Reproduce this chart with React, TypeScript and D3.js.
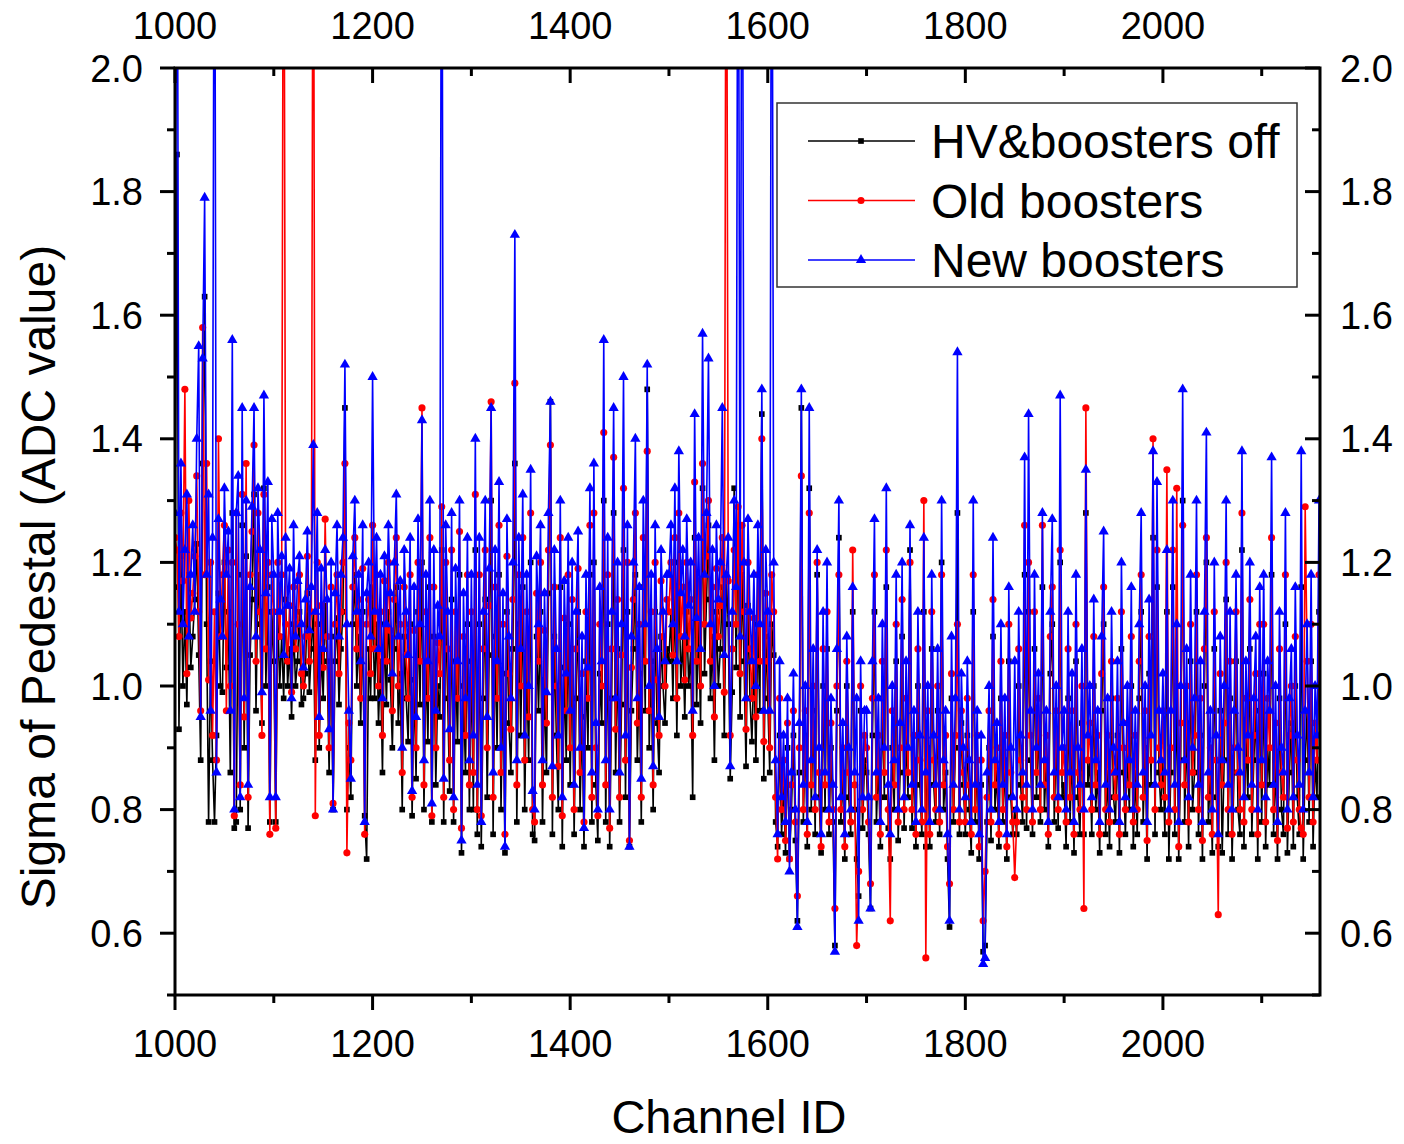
import React from 'react';
import * as d3 from 'd3';

// ---------- DATA (values in hundredths of ADC counts, one value every 2 channels) ----------
const CHANNEL_START = 1000;
const CHANNEL_STEP = 2;

const hvOff = [
  // 1000-1098
  116,186,93,121,100,112,97,118,103,108, 114,123,105,88,136,163,110,78,104,88, 78,92,115,100,99,120,103,112,86,128, 77,78,118,80,126,90,121,77,105,114, 131,96,118,110,94,132,100,116,78,112,
  // 1100-1198
  104,78,112,100,108,98,114,100,106,95, 110,100,104,112,97,98,102,115,99,106, 112,88,110,90,106,98,113,104,86,108, 80,104,111,97,106,112,145,80,90,82, 110,118,100,108,94,112,79,72,106,98,
  // 1200-1298
  116,98,110,94,104,86,110,97,112,101, 90,106,116,94,102,80,108,98,91,110, 79,101,85,112,97,120,80,104,91,116, 78,108,84,100,95,122,78,112,98,83, 114,78,104,91,118,73,100,86,110,80,
  // 1300-1398
  104,80,122,76,110,74,98,114,82,105, 130,76,108,90,118,80,102,73,112,94, 86,106,136,78,110,92,116,80,104,88, 120,76,75,108,96,112,78,101,86,115, 146,76,108,92,80,116,74,103,88,110,
  // 1400-1498
  84,106,76,98,112,80,95,74,104,90, 118,78,120,84,75,102,94,130,78,110, 74,98,128,86,106,78,97,122,82,112, 74,96,106,118,88,102,78,116,96,148, 90,104,80,112,94,86,108,100,94,106,
  // 1500-1598
  104,112,98,116,92,120,100,108,95,112, 100,106,82,124,97,110,94,132,102,114, 126,98,108,88,112,100,106,116,92,118, 110,85,99,132,103,126,95,118,104,87, 113,98,91,104,88,110,96,144,85,108,
  // 1600-1698
  98,86,110,105,78,74,92,76,84,73, 90,72,80,92,75,62,86,145,78,92, 74,132,80,96,76,118,82,73,100,80, 106,76,90,78,58,96,124,78,86,72, 100,82,76,112,80,72,66,96,77,88,
  // 1700-1798
  86,76,64,92,112,78,88,74,98,82, 116,77,72,90,80,104,75,86,108,77, 92,82,122,77,88,74,100,84,76,112, 74,90,74,106,84,78,96,76,120,80, 86,72,61,98,78,90,128,76,94,84,
  // 1800-1898
  76,92,80,73,112,78,88,72,84,57, 58,78,90,75,108,80,86,74,98,78, 88,72,104,82,76,80,76,100,84,78, 118,77,112,88,76,106,82,94,78,116, 80,88,74,102,110,78,92,77,120,82,
  // 1900-1998
  84,74,98,78,90,73,104,82,76,94, 76,128,84,88,76,100,80,86,73,96, 110,76,86,74,98,82,78,92,73,106, 86,76,90,80,100,74,86,76,98,112, 78,90,72,102,84,124,76,116,86,80,
  // 2000-2098
  88,76,112,72,86,116,76,100,72,88, 130,78,94,74,104,80,86,112,76,92, 72,100,120,78,86,73,106,82,74,96, 73,88,114,76,98,72,86,104,80,76, 122,74,92,82,106,76,88,96,72,102,
  // 2100-2158
  78,102,74,90,84,118,76,88,72,98, 80,76,110,73,86,94,74,100,82,76, 116,72,88,96,78,104,74,88,82,112,
];

const oldBoosters = [
  // 1000-1098
  124,122,108,128,117,148,102,130,111,115, 121,134,112,96,158,118,136,101,120,92, 112,88,140,108,118,126,96,122,100,120, 79,128,110,84,131,95,136,82,118,125, 139,104,128,112,92,131,106,120,76,118,
  // 1100-1198
  112,77,120,108,118,260,110,104,113,99, 116,106,110,118,102,100,108,121,104,112, 260,79,120,92,113,103,127,108,90,116, 81,110,118,102,112,120,136,73,94,88, 116,124,106,114,98,119,76,110,114,102,
  // 1200-1298
  126,106,118,100,112,92,117,104,120,109, 96,114,124,100,110,86,116,105,98,118, 82,109,90,120,104,145,84,112,98,124, 79,116,90,107,102,129,82,120,106,88, 122,80,112,98,125,77,108,92,118,84,
  // 1300-1398
  112,86,131,80,118,79,106,122,90,113, 146,82,116,98,126,86,110,76,121,102, 93,114,149,84,118,100,124,88,112,95, 128,80,78,115,104,120,84,109,94,122, 139,82,116,100,87,124,79,111,96,118,
  // 1400-1498
  90,114,80,106,119,86,102,78,112,98, 126,82,128,90,79,110,100,141,84,118, 77,106,137,93,114,82,105,132,88,120, 75,103,114,128,94,110,82,124,104,138, 96,112,84,120,101,92,117,108,100,114,
  // 1500-1598
  112,120,105,124,98,128,108,116,101,120, 106,114,92,133,104,117,100,136,110,121, 130,104,116,95,119,108,113,124,99,260, 117,92,106,122,110,129,102,126,112,93, 120,106,98,111,95,118,104,140,91,115,
  // 1600-1698
  104,90,118,112,82,72,98,80,88,75, 94,72,84,96,78,66,90,134,80,96, 76,128,84,100,80,120,86,74,106,84, 112,78,94,80,64,100,118,80,90,74, 104,86,78,122,84,58,70,100,80,92,
  // 1700-1798
  90,78,68,98,118,82,92,76,104,86, 122,80,62,96,84,110,78,90,114,80, 98,86,120,80,92,76,106,88,78,130, 56,96,76,112,88,80,100,78,118,84, 92,74,68,102,80,92,110,78,96,86,
  // 1800-1898
  78,98,84,76,118,80,92,74,88,62, 70,82,96,78,114,84,90,76,104,80, 92,74,110,86,78,69,78,106,88,82, 126,80,120,92,78,112,86,98,80,126, 84,92,76,108,116,82,96,80,122,86,
  // 1900-1998
  90,78,106,82,96,76,110,86,80,100, 64,145,88,94,80,108,84,92,76,102, 116,80,92,78,104,86,82,98,76,112, 90,80,94,84,108,78,92,80,104,118, 82,96,75,108,88,140,80,122,90,84,
  // 2000-2098
  96,82,135,78,90,122,80,132,74,94, 126,84,100,78,110,86,92,118,80,98, 75,106,124,82,90,76,112,88,63,102, 84,94,120,80,104,76,90,112,86,80, 128,78,98,88,114,80,92,102,76,110,
  // 2100-2158
  84,110,78,98,90,124,80,94,75,106, 86,82,118,77,92,100,78,108,88,80, 77,76,129,104,82,110,78,94,88,118,
];

const newBoosters = [
  // 1000-1098
  128,260,112,136,110,122,131,108,118,126, 112,140,155,95,153,179,118,131,96,124, 260,86,127,114,108,132,118,125,96,156, 80,128,134,82,145,98,130,84,116,129, 145,108,132,122,99,147,115,133,82,127,
  // 1100-1198
  118,82,128,112,121,105,124,113,119,98, 126,108,117,121,110,103,114,125,109,116, 139,112,128,95,119,106,122,114,93,120, 80,115,126,108,118,124,152,110,96,85, 121,130,112,118,104,126,78,115,120,108,
  // 1200-1298
  150,112,124,106,118,98,121,110,126,115, 102,120,131,108,117,90,122,112,105,124, 83,116,95,127,110,143,88,118,104,130, 81,122,96,113,108,260,85,126,112,93, 128,82,119,104,130,75,115,98,124,88,
  // 1300-1398
  118,92,140,84,124,78,112,130,95,119, 145,86,122,104,133,90,115,74,127,108, 98,120,173,88,124,106,131,92,118,100, 135,83,80,121,110,126,88,115,99,128, 146,87,122,106,92,130,82,117,102,124,
  // 1400-1498
  96,120,84,112,125,90,108,77,118,103, 132,86,136,94,80,116,104,156,88,124, 80,112,145,98,120,86,110,150,92,126, 74,108,120,140,98,116,85,130,110,152, 100,118,87,126,106,95,122,112,104,118,
  // 1500-1598
  118,126,110,132,104,138,115,122,108,127, 113,120,96,144,111,124,106,157,118,128, 153,110,122,100,126,114,120,145,105,118, 124,87,112,130,116,260,108,260,120,98, 127,112,104,118,100,126,110,148,96,122,
  // 1600-1698
  112,96,260,120,88,76,104,82,92,78, 98,70,86,102,80,61,94,148,84,100, 78,145,88,106,82,122,90,76,112,86, 120,80,98,84,57,106,130,82,94,76, 108,90,80,116,86,98,62,104,82,96,
  // 1700-1798
  96,82,64,104,127,86,98,78,110,90, 132,84,76,100,88,118,80,94,120,82, 104,90,126,84,96,78,112,92,80,124, 86,100,78,118,92,84,106,80,130,88, 96,76,62,108,84,98,154,80,102,90,
  // 1800-1898
  82,104,88,78,130,84,96,76,92,55, 56,86,100,80,124,88,94,78,110,84, 98,76,116,90,82,104,80,112,92,86, 137,84,144,96,80,118,90,102,84,128, 88,96,78,112,127,86,100,82,147,90,
  // 1900-1998
  96,80,112,86,102,78,118,90,84,106, 80,135,92,100,82,114,88,96,78,108, 125,84,98,80,112,90,86,104,78,120, 94,82,100,88,116,80,96,84,110,128, 86,100,78,114,92,138,84,133,96,88,
  // 2000-2098
  102,86,122,80,96,130,84,110,78,100, 148,88,106,82,118,90,98,130,84,104, 78,112,141,86,96,80,120,92,76,108, 88,100,130,84,112,80,96,118,90,86, 138,82,104,92,120,84,98,108,80,116,
  // 2100-2158
  88,118,82,104,96,137,84,100,78,112, 90,86,128,80,98,106,82,116,92,84, 138,80,96,110,86,118,82,100,92,130,
];

const seriesNames = ['HV&boosters off', 'Old boosters', 'New boosters'];
const xMajorTicks = [1000, 1200, 1400, 1600, 1800, 2000];
const xMinorTicks = [1100, 1300, 1500, 1700, 1900, 2100];
const yMajorTicks = [0.6, 0.8, 1.0, 1.2, 1.4, 1.6, 1.8, 2.0];
const yMinorTicks = [0.5, 0.7, 0.9, 1.1, 1.3, 1.5, 1.7, 1.9];

const FONT = '"Liberation Sans", Arial, Helvetica, sans-serif';

export default function App() {
  const W = 1404, H = 1144;
  const L = 175, R = 1320, T = 68, B = 995;
  const x = d3.scaleLinear().domain([1000, 2159]).range([L, R]);
  const y = d3.scaleLinear().domain([0.5, 2.0]).range([B, T]);

  const series = [
    { name: seriesNames[0], values: hvOff, color: '#000000', symbol: d3.symbolSquare, size: 32 },
    { name: seriesNames[1], values: oldBoosters, color: '#ff0000', symbol: d3.symbolCircle, size: 40 },
    { name: seriesNames[2], values: newBoosters, color: '#0000ff', symbol: d3.symbolTriangle, size: 46 },
  ];

  const cx = (i: number) => x(CHANNEL_START + i * CHANNEL_STEP);
  const line = d3.line<number>().x((_, i) => cx(i)).y((d) => y(d / 100));

  const majorLen = 15, minorLen = 8;

  return (
    <svg width={W} height={H} style={{ position: 'absolute', left: 0, top: 0, background: '#fff' }} fontFamily={FONT}>
      <rect x={0} y={0} width={W} height={H} fill="#fff" />
      <defs>
        <clipPath id="plotClip">
          <rect x={L} y={T} width={R - L} height={B - T} />
        </clipPath>
      </defs>
      <g clipPath="url(#plotClip)">
        {series.map((s) => {
          const p = d3.symbol().type(s.symbol).size(s.size)() as string;
          return (
            <g key={s.name}>
              <path d={line(s.values) as string} fill="none" stroke={s.color} strokeWidth={1.6} />
              {s.values.map((v, i) => (
                <path key={i} d={p} transform={`translate(${cx(i)},${y(v / 100)})`} fill={s.color} />
              ))}
            </g>
          );
        })}
      </g>

      {/* frame */}
      <rect x={L} y={T} width={R - L} height={B - T} fill="none" stroke="#000" strokeWidth={3} />

      {/* x ticks */}
      {xMajorTicks.map((t) => (
        <g key={'xm' + t}>
          <line x1={x(t)} x2={x(t)} y1={B} y2={B + majorLen} stroke="#000" strokeWidth={3} />
          <line x1={x(t)} x2={x(t)} y1={T} y2={T + majorLen} stroke="#000" strokeWidth={3} />
          <text x={x(t)} y={1057} textAnchor="middle" fontSize={38}>{t}</text>
          <text x={x(t)} y={39} textAnchor="middle" fontSize={38}>{t}</text>
        </g>
      ))}
      {xMinorTicks.map((t) => (
        <g key={'xn' + t}>
          <line x1={x(t)} x2={x(t)} y1={B} y2={B + minorLen} stroke="#000" strokeWidth={3} />
          <line x1={x(t)} x2={x(t)} y1={T} y2={T + minorLen} stroke="#000" strokeWidth={3} />
        </g>
      ))}

      {/* y ticks */}
      {yMajorTicks.map((t) => (
        <g key={'ym' + t}>
          <line x1={L - majorLen} x2={L} y1={y(t)} y2={y(t)} stroke="#000" strokeWidth={3} />
          <line x1={R - majorLen} x2={R} y1={y(t)} y2={y(t)} stroke="#000" strokeWidth={3} />
          <text x={143} y={y(t) + 13.5} textAnchor="end" fontSize={38}>{t.toFixed(1)}</text>
          <text x={1340} y={y(t) + 13.5} textAnchor="start" fontSize={38}>{t.toFixed(1)}</text>
        </g>
      ))}
      {yMinorTicks.map((t) => (
        <g key={'yn' + t}>
          <line x1={L - minorLen} x2={L} y1={y(t)} y2={y(t)} stroke="#000" strokeWidth={3} />
          <line x1={R - minorLen} x2={R} y1={y(t)} y2={y(t)} stroke="#000" strokeWidth={3} />
        </g>
      ))}

      {/* axis titles */}
      <text x={729} y={1133} textAnchor="middle" fontSize={47}>Channel ID</text>
      <text transform="translate(55,577) rotate(-90)" textAnchor="middle" fontSize={48}>Sigma of Pedestal (ADC value)</text>

      {/* legend */}
      <rect x={777} y={103} width={520} height={184} fill="#fff" stroke="#333" strokeWidth={1.5} />
      {series.map((s, k) => {
        const ly = 141 + k * 59.5;
        const p = d3.symbol().type(s.symbol).size(s.size)() as string;
        return (
          <g key={'lg' + k}>
            <line x1={808} x2={915} y1={ly} y2={ly} stroke={s.color} strokeWidth={1.6} />
            <path d={p} transform={`translate(861,${ly})`} fill={s.color} />
            <text x={931} y={ly + 17} fontSize={48}>{s.name}</text>
          </g>
        );
      })}
    </svg>
  );
}
